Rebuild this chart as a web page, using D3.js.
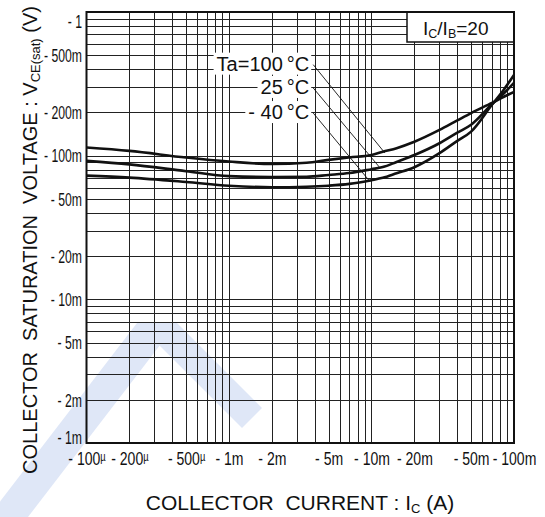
<!DOCTYPE html>
<html>
<head>
<meta charset="utf-8">
<script src="https://cdn.jsdelivr.net/npm/d3@7"></script>
<style>
  body { margin: 0; background: #fff; }
  svg { display: block; font-family: "Liberation Sans", Arial, Helvetica, sans-serif; }
</style>
</head>
<body>
<svg id="chart" width="545" height="517"></svg>
<script>
// collector current (A) where the curves were read
const currents = [1e-4, 2e-4, 5e-4, 1e-3, 2e-3, 3.5e-3, 5e-3, 7e-3, 1e-2, 1.2e-2, 1.5e-2, 2e-2, 3e-2, 4e-2, 5e-2, 7e-2, 8.5e-2, 1e-1];
// VCE(sat) (V) for each temperature
const vce100 = [0.114, 0.108, 0.097, 0.091, 0.0875, 0.0892, 0.0935, 0.0972, 0.101, 0.1065, 0.1128, 0.125, 0.151, 0.176, 0.198, 0.233, 0.257, 0.278];
const vce25  = [0.092, 0.087, 0.078, 0.072, 0.071, 0.0713, 0.0734, 0.0757, 0.0805, 0.0833, 0.0904, 0.101, 0.122, 0.1445, 0.164, 0.228, 0.272, 0.321];
const vceM40 = [0.0726, 0.0703, 0.0656, 0.0618, 0.0603, 0.0608, 0.0618, 0.0636, 0.0675, 0.0701, 0.0754, 0.0831, 0.104, 0.1268, 0.147, 0.226, 0.289, 0.364];

const xTicks = [1e-4, 2e-4, 5e-4, 1e-3, 2e-3, 5e-3, 1e-2, 2e-2, 5e-2, 1e-1];
const xTickLabels = ["- 100µ", "- 200µ", "- 500µ", "- 1m", "- 2m", "- 5m", "- 10m", "- 20m", "- 50m", "- 100m"];
const yTicks = [1, 0.5, 0.2, 0.1, 0.05, 0.02, 0.01, 0.005, 0.002, 0.001];
const yTickLabels = ["- 1", "- 500m", "- 200m", "- 100m", "- 50m", "- 20m", "- 10m", "- 5m", "- 2m", "- 1m"];

// temperature labels and where their leader lines start / end (data units)
const tempLabels = ["Ta=100\u2009°C", "25\u2009°C", "- 40\u2009°C"];
const labelIc = 0.0039;
const labelV = [0.43, 0.296, 0.198];
const leaderIc = [0.0124, 0.0115, 0.0098];
const leaderV = [0.1045, 0.082, 0.0657];

const svg = d3.select("#chart");

const x = d3.scaleLog().domain([1e-4, 1e-1]).range([86.5, 514]);
const y = d3.scaleLog().domain([1e-3, 1]).range([443, 12]);

// pale blue watermark behind the chart (a wide inverted V)
const wm = svg.append("g").attr("fill", "#dfe7f7");
wm.append("polygon").attr("points", "137,323 177,323 28,517 -12,517");
wm.append("polygon").attr("points", "137,323 177,323 262,408 242,428");

// log grid values
function logGrid(lo, hi) {
  const out = [];
  for (let d = lo; d < hi * 1.001; d *= 10) {
    for (let m = 1; m <= 9; m++) {
      const v = m * d;
      if (v > lo * 1.0001 && v < hi * 0.9999) out.push(v);
    }
  }
  return out;
}

const grid = svg.append("g").attr("stroke", "#222").attr("stroke-width", 1);
grid.selectAll(".gx")
  .data(logGrid(1e-4, 1e-1))
  .join("line")
  .attr("x1", d => Math.round(x(d)) + 0.5)
  .attr("x2", d => Math.round(x(d)) + 0.5)
  .attr("y1", y(1))
  .attr("y2", y(1e-3));
grid.selectAll(".gy")
  .data(logGrid(1e-3, 1))
  .join("line")
  .attr("y1", d => Math.round(y(d)) + 0.5)
  .attr("y2", d => Math.round(y(d)) + 0.5)
  .attr("x1", x(1e-4))
  .attr("x2", x(1e-1));

// curves
const line = d3.line()
  .x(d => x(d[0]))
  .y(d => y(d[1]))
  .curve(d3.curveMonotoneX);

const series = [vce100, vce25, vceM40];
svg.append("g")
  .selectAll("path")
  .data(series)
  .join("path")
  .attr("d", s => line(currents.map((c, i) => [c, s[i]])))
  .attr("fill", "none")
  .attr("stroke", "#111")
  .attr("stroke-width", 2.6);

// temperature labels on white boxes
const lab = svg.append("g");
const labTexts = lab.selectAll("text")
  .data(tempLabels)
  .join("text")
  .attr("x", x(labelIc) - 4)
  .attr("y", (d, i) => y(labelV[i]) + 6)
  .attr("text-anchor", "end")
  .attr("font-size", 20)
  .attr("fill", "#111")
  .text(d => d);

labTexts.each(function () {
  const b = this.getBBox();
  lab.insert("rect", "text")
    .attr("x", b.x - 3)
    .attr("y", b.y)
    .attr("width", b.width + 5)
    .attr("height", b.height)
    .attr("fill", "#fff");
});

svg.append("g")
  .selectAll("line")
  .data(tempLabels)
  .join("line")
  .attr("x1", x(labelIc))
  .attr("y1", (d, i) => y(labelV[i]))
  .attr("x2", (d, i) => x(leaderIc[i]))
  .attr("y2", (d, i) => y(leaderV[i]))
  .attr("stroke", "#111")
  .attr("stroke-width", 0.9);

// IC/IB box
const boxX = 407;
svg.append("rect")
  .attr("x", boxX)
  .attr("y", y(1))
  .attr("width", x(1e-1) - boxX)
  .attr("height", 30)
  .attr("fill", "#fff")
  .attr("stroke", "#111")
  .attr("stroke-width", 1.5);

const ratio = svg.append("text")
  .attr("x", 423)
  .attr("y", 35)
  .attr("font-size", 19)
  .attr("fill", "#111");
ratio.append("tspan").text("I");
ratio.append("tspan").attr("font-size", 12.5).attr("dy", 3).text("C");
ratio.append("tspan").attr("dy", -3).text("/I");
ratio.append("tspan").attr("font-size", 12.5).attr("dy", 3).text("B");
ratio.append("tspan").attr("dy", -3).text("=20");

// frame
svg.append("rect")
  .attr("x", x(1e-4))
  .attr("y", y(1))
  .attr("width", x(1e-1) - x(1e-4))
  .attr("height", y(1e-3) - y(1))
  .attr("fill", "none")
  .attr("stroke", "#111")
  .attr("stroke-width", 2);

// y axis labels
const gy = svg.append("g")
  .attr("transform", `translate(${x(1e-4)},0)`)
  .call(d3.axisLeft(y).tickValues(yTicks).tickFormat((d, i) => yTickLabels[i]).tickSize(0).tickPadding(0));
gy.select(".domain").remove();
gy.attr("font-family", null).attr("font-size", 18);
gy.selectAll(".tick text")
  .attr("x", 0)
  .attr("fill", "#111")
  .attr("dy", d => d === 1 ? "0.85em" : d === 1e-3 ? "0em" : "0.35em")
  .attr("transform", "translate(-4.5,0) scale(0.68,1)");

// x axis labels
const gx = svg.append("g")
  .attr("transform", `translate(0,${y(1e-3)})`)
  .call(d3.axisBottom(x).tickValues(xTicks).tickFormat((d, i) => xTickLabels[i]).tickSize(0));
gx.select(".domain").remove();
gx.attr("font-family", null).attr("font-size", 18);
gx.selectAll(".tick text")
  .attr("y", 22)
  .attr("dy", null)
  .attr("fill", "#111")
  .attr("transform", "scale(0.78,1)")
  .each(function (d, i) {
    const s = xTickLabels[i];
    const t = d3.select(this);
    if (s.endsWith("µ")) {
      t.text(s.slice(0, -1));
      t.append("tspan").attr("font-size", 12).attr("dy", -4).text("µ");
    }
  });

// axis titles
const yTitle = svg.append("text")
  .attr("transform", "translate(37,240) rotate(-90)")
  .attr("text-anchor", "middle")
  .attr("font-size", 20)
  .attr("fill", "#111")
  .style("white-space", "pre");
yTitle.append("tspan").text("COLLECTOR  SATURATION  VOLTAGE : V");
yTitle.append("tspan").attr("font-size", 13).attr("dy", 3).text("CE(sat)");
yTitle.append("tspan").attr("dy", -3).text(" (V)");

const xTitle = svg.append("text")
  .attr("x", 300)
  .attr("y", 510)
  .attr("text-anchor", "middle")
  .attr("font-size", 21)
  .attr("fill", "#111")
  .style("white-space", "pre");
xTitle.append("tspan").text("COLLECTOR  CURRENT : I");
xTitle.append("tspan").attr("font-size", 13).attr("dy", 3).text("C");
xTitle.append("tspan").attr("dy", -3).text(" (A)");
</script>
</body>
</html>
